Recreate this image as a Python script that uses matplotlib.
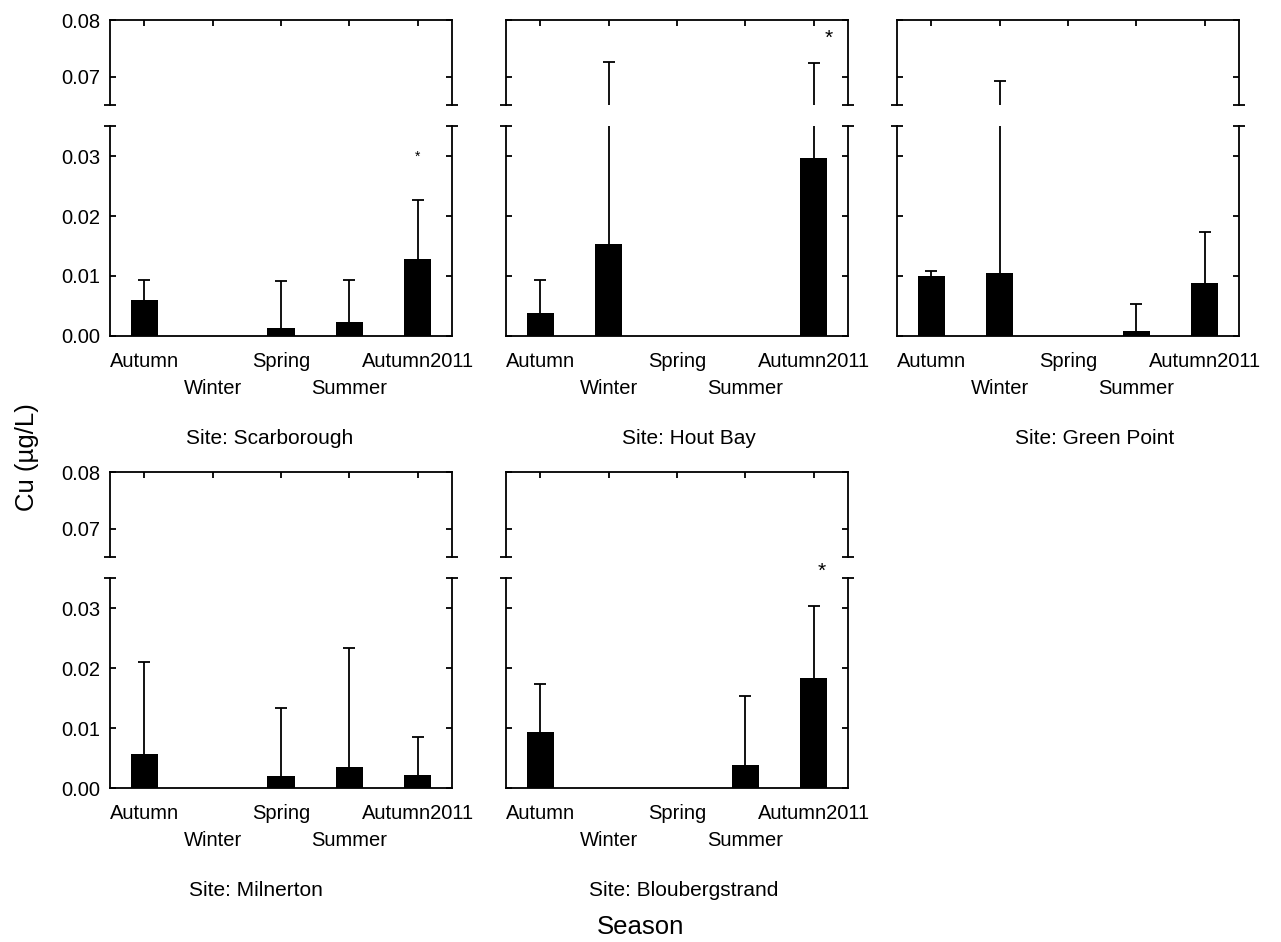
import numpy as np
import matplotlib
matplotlib.use("Agg")
import matplotlib.pyplot as plt

plt.rcParams['font.family'] = ['Liberation Sans', 'DejaVu Sans']

seasons = ["Autumn", "Winter", "Spring", "Summer", "Autumn2011"]
sites = ["Scarborough", "Hout Bay", "Green Point", "Milnerton", "Bloubergstrand"]

# mean Cu per season and the top of each (upper-only) error bar, ug/L
mean_scarborough = [0.0060, 0.0, 0.0013, 0.0023, 0.0129]
upper_scarborough = [0.0093, np.nan, 0.0092, 0.0094, 0.0226]
mean_houtbay = [0.0038, 0.0154, 0.0, 0.0, 0.0296]
upper_houtbay = [0.0094, 0.0726, np.nan, np.nan, 0.0724]
mean_greenpoint = [0.0100, 0.0105, 0.0, 0.0008, 0.0089]
upper_greenpoint = [0.0109, 0.0693, np.nan, 0.0053, 0.0174]
mean_milnerton = [0.0057, 0.0, 0.0020, 0.0035, 0.0022]
upper_milnerton = [0.0210, np.nan, 0.0134, 0.0233, 0.0085]
mean_blouberg = [0.0093, 0.0, 0.0, 0.0038, 0.0183]
upper_blouberg = [0.0173, np.nan, np.nan, 0.0153, 0.0303]

means = [mean_scarborough, mean_houtbay, mean_greenpoint, mean_milnerton, mean_blouberg]
uppers = [upper_scarborough, upper_houtbay, upper_greenpoint, upper_milnerton, upper_blouberg]

# significance stars: (site index, x, y, size)
stars = [(0, 4.0, 0.0298, 10), (1, 4.22, 0.0767, 15), (4, 4.12, 0.0361, 15)]

W, H = 1281, 942
fig = plt.figure(figsize=(W / 100, H / 100), dpi=100)

col_left = [110, 506, 897]
panel_w = 342
row_top = [20, 472]
top_h, gap, low_h = 85, 21, 210
title_x = [270, 689, 1095, 256, 684]

lw = 1.3
x = np.arange(len(seasons))


def px_axes(left, top, width, height):
    return fig.add_axes([left / W, 1 - (top + height) / H, width / W, height / H])


def draw_bars(ax, m, up):
    m = np.array(m)
    up = np.array(up)
    ax.bar(x, m, width=0.4, color='black', zorder=2)
    ok = ~np.isnan(up)
    # error bars go upward only, with a cap at the top
    ax.vlines(x[ok], m[ok], up[ok], color='black', lw=lw, zorder=3)
    ax.plot(x[ok], up[ok], ls='none', marker='_', ms=9, mew=lw, color='black', zorder=3)


for i, site in enumerate(sites):
    r, c = divmod(i, 3)
    left = col_left[c]
    ax_top = px_axes(left, row_top[r], panel_w, top_h)
    ax_low = px_axes(left, row_top[r] + top_h + gap, panel_w, low_h)

    for ax in (ax_top, ax_low):
        draw_bars(ax, means[i], uppers[i])
        ax.set_xlim(-0.5, 4.5)
        for s in ax.spines.values():
            s.set_linewidth(lw)
        ax.tick_params(axis='y', direction='in', length=4, width=lw, left=True, right=True,
                       labelsize=14.5, pad=7, labelleft=(c == 0))
        ax.yaxis.set_major_formatter(matplotlib.ticker.FormatStrFormatter('%.2f'))

    ax_top.set_ylim(0.065, 0.08)
    ax_top.set_yticks([0.07, 0.08])
    ax_top.spines['bottom'].set_visible(False)
    ax_top.xaxis.tick_top()
    ax_top.set_xticks(x)
    ax_top.tick_params(axis='x', direction='in', length=4, width=lw, labeltop=False)

    ax_low.set_ylim(0, 0.035)
    ax_low.set_yticks([0.0, 0.01, 0.02, 0.03])
    ax_low.spines['top'].set_visible(False)
    ax_low.set_xticks([])

    # little end caps where the y axis is broken
    ax_top.plot([0, 1], [0, 0], transform=ax_top.transAxes, ls='none', marker='_',
                ms=9, mew=lw, color='black', clip_on=False)
    ax_low.plot([0, 1], [1, 1], transform=ax_low.transAxes, ls='none', marker='_',
                ms=9, mew=lw, color='black', clip_on=False)

    # staggered season labels
    for k, name in enumerate(seasons):
        off = -16 if k % 2 == 0 else -43
        ax_low.annotate(name, xy=(k, 0), xycoords=('data', 'axes fraction'),
                        xytext=(0, off), textcoords='offset pixels',
                        ha='center', va='top', fontsize=14.5)

    for si, sx, sy, fs in stars:
        if si == i:
            target = ax_top if sy > 0.05 else ax_low
            target.text(sx, sy, '*', ha='center', va='center', fontsize=fs, clip_on=False)

    title_y = row_top[r] + top_h + gap + low_h + 103
    fig.text(title_x[i] / W, 1 - title_y / H, f"Site: {site}", ha='center', va='center',
             fontsize=15)

fig.text(27 / W, 1 - 457 / H, "Cu (µg/L)", rotation=90, ha='center', va='center', fontsize=18.5)
fig.text(641 / W, 1 - 927 / H, "Season", ha='center', va='center', fontsize=18.5)

fig.savefig("out.png", dpi=100)
